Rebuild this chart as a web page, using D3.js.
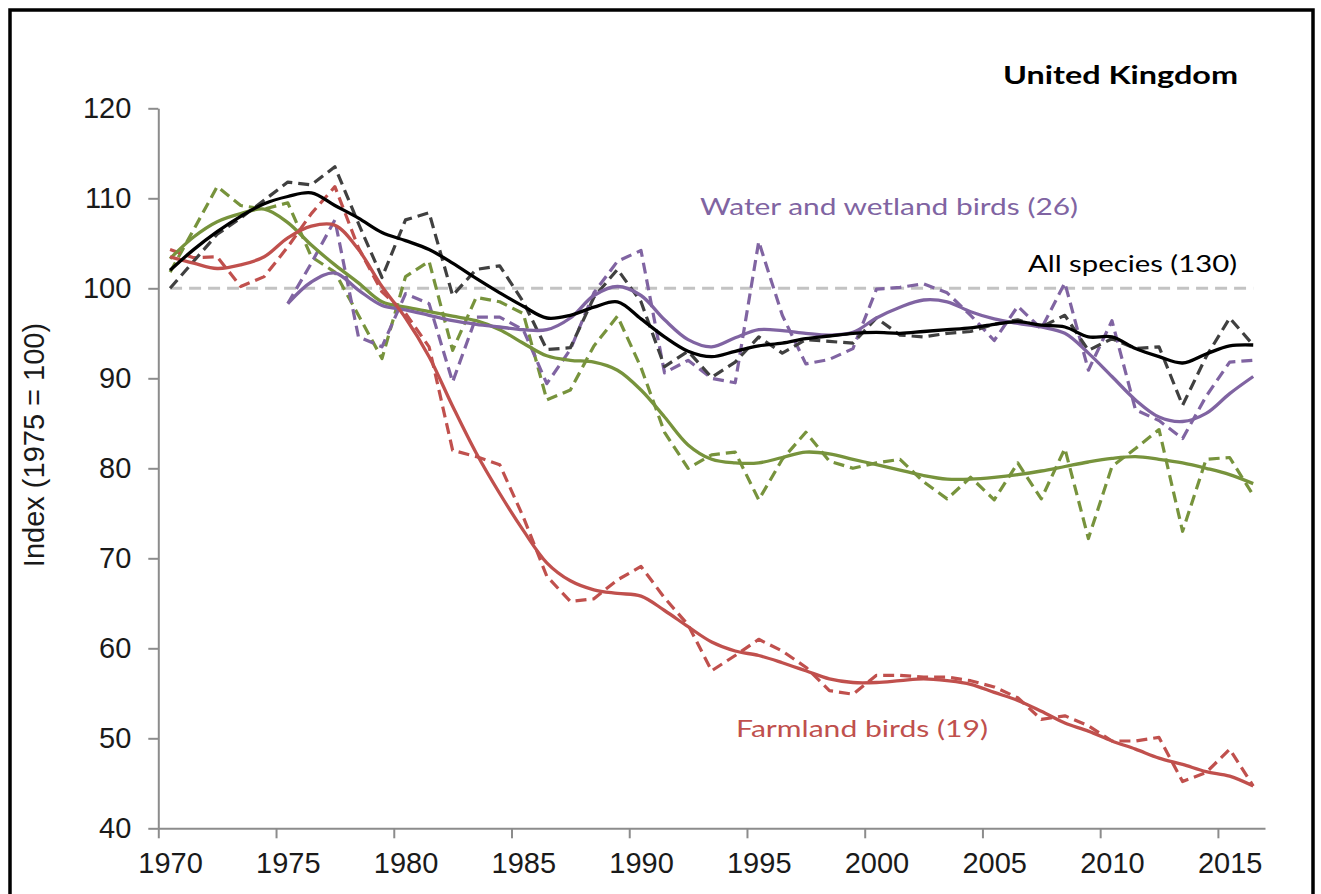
<!DOCTYPE html>
<html>
<head>
<meta charset="utf-8">
<script src="https://cdn.jsdelivr.net/npm/d3@7/dist/d3.min.js"></script>
<style>
  body { margin: 0; background: #fff; }
  .axis path, .axis line { stroke: #8c8c8c; stroke-width: 2; }
  .axis text { font-family: "Liberation Sans", Arial, sans-serif; font-size: 29px; fill: #1a1a1a; }
</style>
</head>
<body>
<div id="chart"></div>
<script>
const years = [1970, 1971, 1972, 1973, 1974, 1975, 1976, 1977, 1978, 1979,
               1980, 1981, 1982, 1983, 1984, 1985, 1986, 1987, 1988, 1989,
               1990, 1991, 1992, 1993, 1994, 1995, 1996, 1997, 1998, 1999,
               2000, 2001, 2002, 2003, 2004, 2005, 2006, 2007, 2008, 2009,
               2010, 2011, 2012, 2013, 2014, 2015, 2016];

// annual index (dashed) and smoothed trend (solid)
const allAnnual = [100.0, 103.0, 106.0, 107.8, 109.8, 111.8, 111.5, 113.5, 107.2, 101.2,
                   107.6, 108.4, 99.2, 102.1, 102.5, 98.5, 93.2, 93.4, 99.0, 102.1,
                   98.5, 91.3, 93.0, 90.1, 91.8, 94.6, 92.8, 94.3, 94.1, 93.9,
                   96.7, 94.8, 94.6, 95.0, 95.2, 96.0, 96.5, 95.7, 97.0, 93.1,
                   94.4, 93.3, 93.5, 87.0, 92.4, 96.7, 93.7];
const allSmooth = [102.0, 104.3, 106.3, 108.0, 109.4, 110.2, 110.6, 109.2, 107.8, 106.2,
                   105.3, 104.3, 102.8, 101.1, 99.5, 98.0, 96.7, 97.0, 97.9, 98.5,
                   96.6, 94.6, 93.0, 92.4, 93.0, 93.6, 93.9, 94.4, 94.7, 95.0,
                   95.1, 95.0, 95.2, 95.4, 95.6, 96.0, 96.3, 95.9, 95.7, 94.6,
                   94.6, 93.3, 92.4, 91.7, 92.7, 93.6, 93.7];

const waterAnnual = [null, null, null, null, null, 98.3, 102.8, 107.6, 94.6, 93.5,
                     99.4, 98.3, 89.6, 96.8, 96.8, 95.4, 89.4, 93.2, 99.5, 103.0,
                     104.2, 90.6, 92.0, 90.0, 89.5, 105.2, 97.0, 91.6, 92.1, 93.3,
                     99.9, 100.1, 100.5, 99.5, 97.0, 94.2, 98.0, 95.5, 100.6, 90.9,
                     96.4, 86.5, 85.3, 83.3, 88.0, 91.8, 92.0];
const waterSmooth = [null, null, null, null, null, 98.3, 100.7, 101.7, 99.8, 98.1,
                     97.6, 97.0, 96.4, 96.0, 95.7, 95.4, 95.4, 96.7, 99.2, 100.2,
                     99.2, 96.5, 94.3, 93.5, 94.5, 95.4, 95.3, 95.0, 94.8, 95.1,
                     96.7, 97.9, 98.7, 98.5, 97.4, 96.6, 96.1, 95.7, 95.0, 92.8,
                     90.2, 87.6, 85.7, 85.2, 86.1, 88.3, 90.2];

const greenAnnual = [101.8, 106.5, 111.3, 109.2, 108.8, 109.5, 103.5, 101.8, 97.0, 92.2,
                     101.3, 103.0, 93.1, 99.0, 98.5, 97.2, 87.6, 88.7, 93.6, 96.9,
                     91.2, 84.0, 80.0, 81.5, 81.8, 76.5, 81.0, 84.0, 80.8, 80.0,
                     80.6, 81.0, 78.5, 76.6, 79.0, 76.5, 80.6, 76.6, 82.2, 72.2,
                     80.2, 82.2, 84.3, 73.0, 81.0, 81.2, 77.0];
const greenSmooth = [103.3, 105.7, 107.4, 108.3, 108.8, 107.3, 104.8, 102.6, 100.6, 98.5,
                     97.9, 97.4, 96.9, 96.4, 95.4, 93.9, 92.5, 92.0, 91.8, 90.9,
                     88.7, 85.7, 82.6, 81.0, 80.6, 80.6, 81.2, 81.8, 81.6, 81.0,
                     80.4, 79.8, 79.2, 78.8, 78.8, 79.0, 79.3, 79.7, 80.2, 80.7,
                     81.1, 81.3, 81.0, 80.6, 80.0, 79.3, 78.3];

const farmAnnual = [104.3, 103.4, 103.5, 100.2, 101.3, 104.6, 108.3, 111.3, 104.5, 99.6,
                    97.2, 93.5, 82.0, 81.3, 80.4, 74.6, 68.0, 65.2, 65.5, 67.6,
                    69.1, 65.6, 62.6, 57.5, 59.2, 61.0, 59.7, 57.9, 55.3, 54.9,
                    57.0, 57.0, 56.8, 56.8, 56.4, 55.7, 54.5, 52.1, 52.5, 51.4,
                    49.7, 49.7, 50.1, 45.2, 46.2, 48.8, 44.7];
const farmSmooth = [103.5, 102.8, 102.2, 102.6, 103.5, 105.6, 106.9, 107.0, 104.3, 100.2,
                    96.7, 92.4, 86.9, 81.7, 77.2, 73.1, 69.5, 67.5, 66.5, 66.1,
                    65.8, 64.2, 62.4, 60.7, 59.7, 59.2, 58.4, 57.5, 56.6, 56.2,
                    56.2, 56.4, 56.6, 56.4, 56.0, 55.1, 54.2, 53.0, 51.7, 50.8,
                    49.7, 48.8, 47.8, 47.1, 46.3, 45.8, 44.7];

const baseline = 100;
const xTickYears = [1970, 1975, 1980, 1985, 1990, 1995, 2000, 2005, 2010, 2015];
const yTicks = [40, 50, 60, 70, 80, 90, 100, 110, 120];

const width = 1321;
const height = 894;

let svg = d3.select("#chart").append("svg")
    .attr("width", width)
    .attr("height", height);

// frame around the picture
svg.append("rect")
    .attr("x", 10)
    .attr("y", 10)
    .attr("width", 1303)
    .attr("height", 910)
    .attr("fill", "none")
    .attr("stroke", "#000")
    .attr("stroke-width", 3.5);

let xScale = d3.scaleLinear()
    .domain([1969.5, 2016.5])
    .range([158.3, 1265]);

let yScale = d3.scaleLinear()
    .domain([40, 120])
    .range([828.3, 108.3]);

const step = xScale(1971) - xScale(1970);

// x axis: ticks sit between categories, labels on the category
let xAxis = svg.append("g")
    .attr("class", "axis")
    .attr("transform", `translate(0,${yScale(40)})`)
    .call(d3.axisBottom(xScale)
        .tickValues(xTickYears)
        .tickFormat(d3.format("d"))
        .tickSize(10)
        .tickSizeOuter(0)
        .tickPadding(14));
xAxis.selectAll(".tick line")
    .attr("x1", -step / 2)
    .attr("x2", -step / 2);

let yAxis = svg.append("g")
    .attr("class", "axis")
    .attr("transform", `translate(${xScale.range()[0]},0)`)
    .call(d3.axisLeft(yScale)
        .tickValues(yTicks)
        .tickSize(10)
        .tickSizeOuter(0)
        .tickPadding(17));

svg.append("text")
    .attr("transform", `translate(44,445) rotate(-90)`)
    .attr("text-anchor", "middle")
    .style("font-family", '"Liberation Sans", Arial, sans-serif')
    .style("font-size", "29px")
    .attr("fill", "#1a1a1a")
    .text("Index (1975 = 100)");

// reference line at 100
svg.append("line")
    .attr("x1", xScale(years[0]))
    .attr("x2", xScale(years[years.length - 1]))
    .attr("y1", yScale(baseline))
    .attr("y2", yScale(baseline))
    .attr("stroke", "#c3c3c3")
    .attr("stroke-width", 3)
    .attr("stroke-dasharray", "12,7");

// annual values: straight segments; trends: smooth curve
let annualLine = d3.line()
    .defined(d => d[1] != null)
    .x(d => xScale(d[0]))
    .y(d => yScale(d[1]));

let trendLine = d3.line()
    .defined(d => d[1] != null)
    .x(d => xScale(d[0]))
    .y(d => yScale(d[1]))
    .curve(d3.curveCatmullRom.alpha(0.5));

const series = [
    { values: greenAnnual, color: "#77933c", dash: true },
    { values: waterAnnual, color: "#8064a2", dash: true },
    { values: farmAnnual, color: "#c0504d", dash: true },
    { values: allAnnual, color: "#404040", dash: true },
    { values: greenSmooth, color: "#77933c", dash: false },
    { values: waterSmooth, color: "#8064a2", dash: false },
    { values: farmSmooth, color: "#c0504d", dash: false },
    { values: allSmooth, color: "#000000", dash: false }
];

svg.selectAll("path.series")
    .data(series)
    .enter()
    .append("path")
    .attr("class", "series")
    .attr("d", s => {
        const pts = years.map((yr, i) => [yr, s.values[i]]);
        return s.dash ? annualLine(pts) : trendLine(pts);
    })
    .attr("fill", "none")
    .attr("stroke", s => s.color)
    .attr("stroke-width", s => s.dash ? 3.2 : 3.3)
    .attr("stroke-dasharray", s => s.dash ? "11,6" : null)
    .attr("stroke-linejoin", "round");

// labels
const labels = [
    { text: "United Kingdom", x: 1003, y: 84, w: 235, color: "#000", bold: true },
    { text: "Water and wetland birds (26)", x: 700, y: 215, w: 378, color: "#8064a2", bold: false },
    { text: "All species (130)", x: 1028, y: 272, w: 209, color: "#000", bold: false },
    { text: "Farmland birds (19)", x: 736, y: 737, w: 252, color: "#c0504d", bold: false }
];

svg.selectAll("text.label")
    .data(labels)
    .enter()
    .append("text")
    .attr("class", "label")
    .attr("x", d => d.x)
    .attr("y", d => d.y)
    .attr("textLength", d => d.w)
    .attr("lengthAdjust", "spacingAndGlyphs")
    .style("font-family", "Lato, 'Open Sans', sans-serif")
    .style("font-size", "24px")
    .style("font-weight", d => d.bold ? "bold" : "normal")
    .attr("fill", d => d.color)
    .text(d => d.text);
</script>
</body>
</html>
